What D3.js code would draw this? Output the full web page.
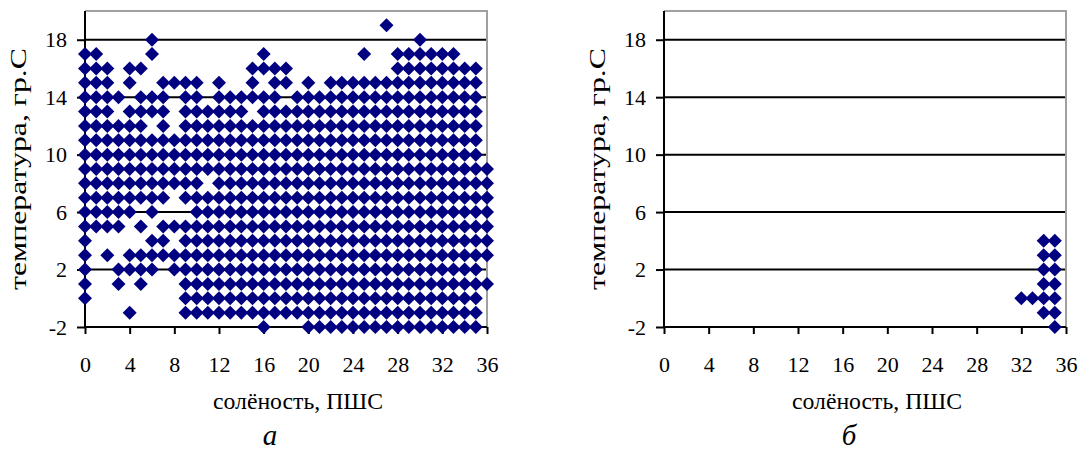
<!DOCTYPE html>
<html>
<head>
<meta charset="utf-8">
<script src="https://cdn.jsdelivr.net/npm/d3@7"></script>
<style>
  body { margin: 0; background: #fff; }
  text { font-family: "Liberation Serif", "Times New Roman", serif; }
</style>
</head>
<body>
<div id="chart"></div>
<script>
// 1: DATA
// temperature rows (top to bottom) and salinity columns 0..36; "#" = observed point
const temps = [19, 18, 17, 16, 15, 14, 13, 12, 11, 10, 9, 8, 7, 6, 5, 4, 3, 2, 1, 0, -1, -2];
const salinities = d3.range(0, 37);

const gridA = [
  "...........................#.........",
  "......#.......................#......",
  "##....#.........#........#..######...",
  "###.##.........####.........########.",
  "###.#..####.#..#.##.#.##############.",
  "####.###.##.######.#################.",
  "###.####.######.####################.",
  "######.#.###########################.",
  "####################################.",
  "####################################.",
  "#####################################",
  "###########.#########################",
  "########.############################",
  "#####.#...###########################",
  "####.#.##############################",
  "#.....##.############################",
  "#.#.#################################",
  "#..####.############################.",
  "#..#.#...############################",
  "#........###########################.",
  "....#....###########################.",
  "................#...################."
];

const gridB = [
  ".....................................",
  ".....................................",
  ".....................................",
  ".....................................",
  ".....................................",
  ".....................................",
  ".....................................",
  ".....................................",
  ".....................................",
  ".....................................",
  ".....................................",
  ".....................................",
  ".....................................",
  ".....................................",
  ".....................................",
  "..................................##.",
  "..................................##.",
  "..................................##.",
  "..................................##.",
  "................................####.",
  "..................................##.",
  "...................................#."
];

const yTicks = [-2, 2, 6, 10, 14, 18];
const xTicks = [0, 4, 8, 12, 16, 20, 24, 28, 32, 36];
const xTitle = "солёность, ПШС";
const yTitle = "температура, гр.С";
const panelLabels = ["а", "б"];

// turn grid strings into points
function toPoints(grid) {
  const pts = [];
  grid.forEach((row, i) => {
    salinities.forEach(s => {
      if (row[s] === "#") pts.push({ s: s, t: temps[i] });
    });
  });
  return pts;
}

// 2: SVG
const svg = d3.select("#chart").append("svg")
  .attr("width", 1083)
  .attr("height", 450);

const plotTop = 11, plotBottom = 327;
const yScale = d3.scaleLinear().domain([-2, 20]).range([plotBottom, plotTop]);
const diamond = "M0,-7L7,0L0,7L-7,0Z";

function drawPanel(left, grid, label) {
  const right = left + 402;
  const xScale = d3.scaleLinear().domain([0, 36]).range([left, right]);
  const g = svg.append("g");

  // gridlines
  g.selectAll("line.grid")
    .data(yTicks.filter(d => d > -2))
    .enter().append("line")
    .attr("class", "grid")
    .attr("x1", left).attr("x2", right)
    .attr("y1", d => yScale(d)).attr("y2", d => yScale(d))
    .style("stroke", "#000").style("stroke-width", 2);

  // top / right frame
  g.append("path")
    .attr("d", `M${left},${plotTop}H${right}V${plotBottom}`)
    .style("fill", "none").style("stroke", "#a0a0a0").style("stroke-width", 2);

  // axes (plain hyphen for negatives, like the original)
  const yAxis = g.append("g")
    .attr("transform", `translate(${left},0)`)
    .call(d3.axisLeft(yScale).tickValues(yTicks).tickFormat(d => String(d))
      .tickSize(8).tickSizeOuter(0).tickPadding(10));
  const xAxis = g.append("g")
    .attr("transform", `translate(0,${plotBottom})`)
    .call(d3.axisBottom(xScale).tickValues(xTicks).tickFormat(d => String(d))
      .tickSize(7).tickSizeOuter(0).tickPadding(22));

  [yAxis, xAxis].forEach(ax => {
    ax.select(".domain").style("stroke", "#000").style("stroke-width", 2);
    ax.selectAll(".tick line").style("stroke", "#000").style("stroke-width", 2);
    ax.selectAll(".tick text").style("font-size", "22px").style("fill", "#000")
      .style("font-family", '"Liberation Serif", serif');
  });
  yAxis.select(".domain").attr("d", `M0,${plotTop}V${plotBottom}`);
  xAxis.select(".domain").attr("d", `M${left},0H${right}`);

  // points
  g.selectAll("path.pt")
    .data(toPoints(grid))
    .enter().append("path")
    .attr("class", "pt")
    .attr("d", diamond)
    .attr("transform", d => `translate(${xScale(d.s)},${yScale(d.t)})`)
    .style("fill", "#000080");

  // labels
  g.append("text")
    .attr("x", left + 213).attr("y", 409)
    .attr("text-anchor", "middle")
    .attr("textLength", 170)
    .attr("lengthAdjust", "spacingAndGlyphs")
    .style("font-size", "24px")
    .text(xTitle);

  g.append("text")
    .attr("transform", `translate(${left - 59},${(plotTop + plotBottom) / 2}) rotate(-90)`)
    .attr("text-anchor", "middle")
    .attr("textLength", 242)
    .attr("lengthAdjust", "spacingAndGlyphs")
    .style("font-size", "24px")
    .text(yTitle);

  g.append("text")
    .attr("x", left + 185).attr("y", 445)
    .attr("text-anchor", "middle")
    .style("font-size", "29px")
    .style("font-style", "italic")
    .text(label);
}

drawPanel(85, gridA, panelLabels[0]);
drawPanel(664, gridB, panelLabels[1]);
</script>
</body>
</html>
